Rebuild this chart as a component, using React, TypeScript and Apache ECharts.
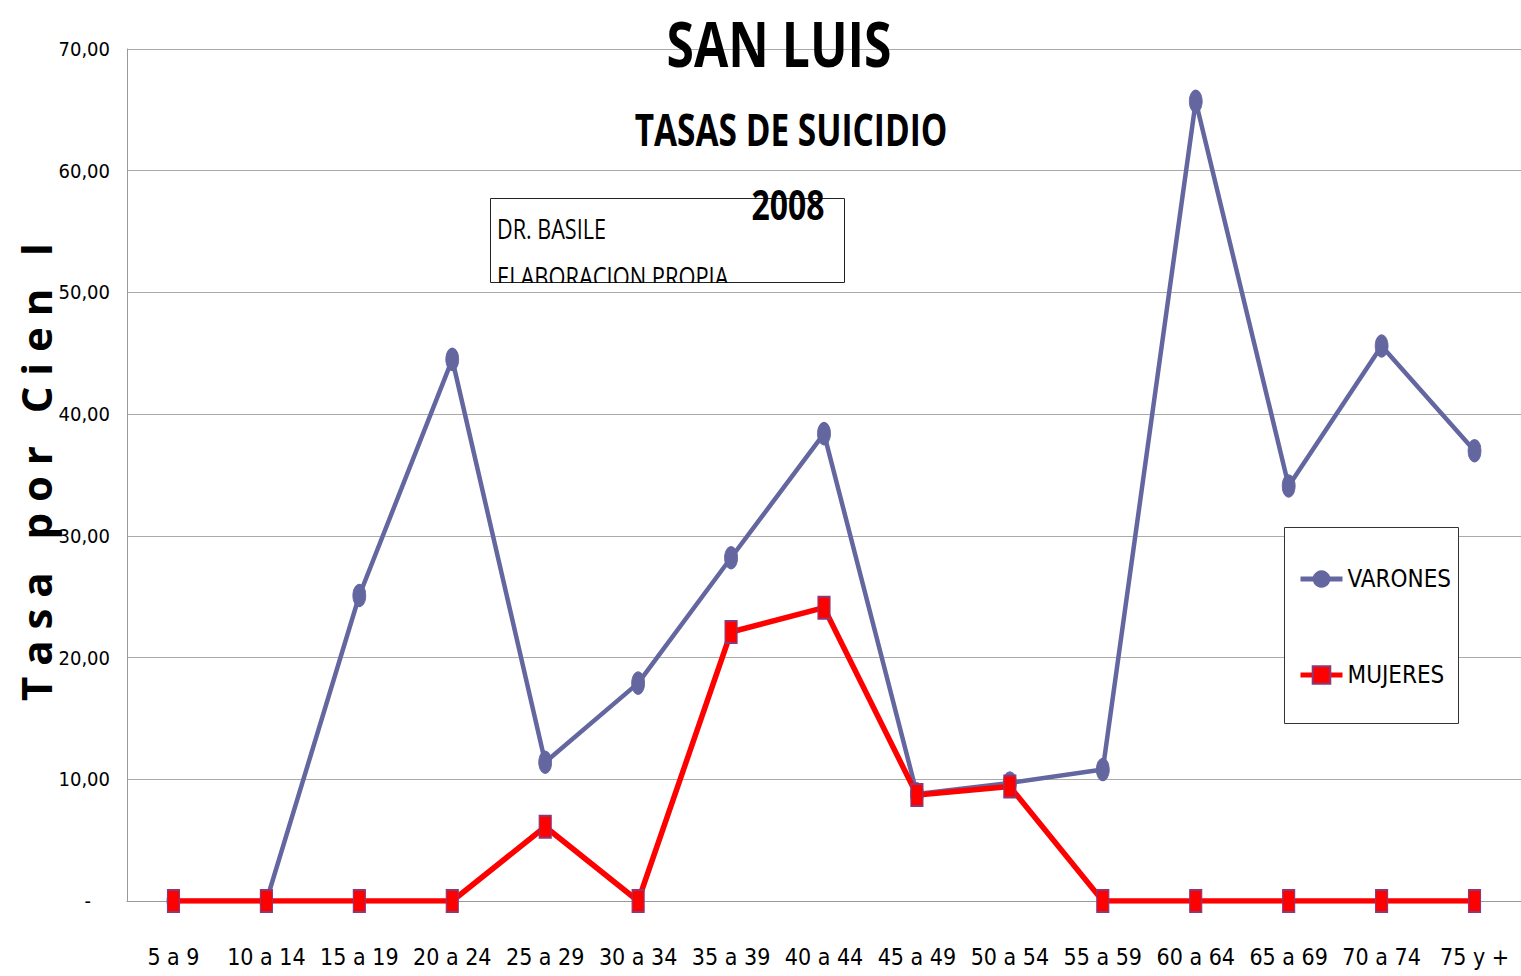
import React, { useEffect, useRef } from "react";
import * as echarts from "echarts";

const categories = ["5 a 9", "10 a 14", "15 a 19", "20 a 24", "25 a 29", "30 a 34", "35 a 39", "40 a 44", "45 a 49", "50 a 54", "55 a 59", "60 a 64", "65 a 69", "70 a 74", "75 y +"];
const varones = [0, 0, 25.1, 44.5, 11.4, 17.9, 28.2, 38.4, 8.8, 9.7, 10.8, 65.7, 34.1, 45.6, 37.0];
const mujeres = [0, 0, 0, 0, 6.1, 0, 22.1, 24.1, 8.7, 9.4, 0, 0, 0, 0, 0];
const yTicks = { min: 0, max: 70, interval: 10 };

const FONT = "'DejaVu Sans Condensed', 'Liberation Sans Narrow', 'Liberation Sans', sans-serif";
const TFONT = "'Open Sans', sans-serif";

export default function App() {
  const ref = useRef<HTMLDivElement>(null);
  useEffect(() => {
    if (!ref.current) return;
    const chart = echarts.init(ref.current, null, { renderer: "svg" });
    chart.setOption({
      animation: false,
      backgroundColor: "#ffffff",
      grid: { left: 127, top: 49, right: 0, bottom: 75, containLabel: false },
      xAxis: {
        type: "category",
        data: categories,
        boundaryGap: true,
        axisLine: { show: true, lineStyle: { color: "#999999", width: 1 } },
        axisTick: { show: false },
        axisLabel: { color: "#000", fontFamily: FONT, fontSize: 23, margin: 44, interval: 0 },
      },
      yAxis: {
        type: "value",
        min: yTicks.min,
        max: yTicks.max,
        interval: yTicks.interval,
        axisLine: { show: true, lineStyle: { color: "#999999", width: 1 } },
        axisTick: { show: false },
        splitLine: { show: true, lineStyle: { color: "#aaaaaa", width: 1 } },
        axisLabel: {
          color: "#000",
          fontFamily: FONT,
          fontSize: 20,
          margin: 17,
          formatter: (v: number) => (v === 0 ? "{d|-}" : v.toFixed(2).replace(".", ",")),
          rich: { d: { fontFamily: FONT, fontSize: 20, color: "#000", padding: [0, 19, 0, 0] } },
        },
      },
      legend: {
        orient: "vertical",
        left: 1293,
        top: 562,
        itemGap: 72,
        itemWidth: 42,
        itemHeight: 22,
        lineStyle: { width: 5 },
        textStyle: { fontFamily: FONT, fontSize: 24, color: "#000" },
        data: ["VARONES", "MUJERES"],
      },
      graphic: [
        { type: "rect", shape: { x: 1284.5, y: 527.5, width: 174, height: 196 }, style: { fill: "#fff", stroke: "#333", lineWidth: 1 }, z: 1 },
        { type: "text", x: 779, y: 43, scaleX: 0.89, scaleY: 1.12, style: { text: "SAN LUIS", fontFamily: TFONT, fontSize: 56, fontWeight: "bold", fill: "#000", align: "center", verticalAlign: "middle" }, z: 10 },
        { type: "text", x: 791, y: 129, scaleX: 0.76, style: { text: "TASAS DE SUICIDIO", fontFamily: TFONT, fontSize: 44, fontWeight: "bold", fill: "#000", align: "center", verticalAlign: "middle" }, z: 10 },
        { type: "rect", shape: { x: 490.5, y: 198.5, width: 354, height: 84 }, style: { fill: "#fff", stroke: "#222", lineWidth: 1 }, z: 5 },
        { type: "text", x: 497, y: 229, scaleX: 0.8, style: { text: "DR. BASILE", fontFamily: TFONT, fontSize: 27, fill: "#000", align: "left", verticalAlign: "middle" }, z: 6 },
        { type: "text", x: 497, y: 277, scaleX: 0.81, style: { text: "ELABORACION PROPIA", fontFamily: TFONT, fontSize: 27, fill: "#000", align: "left", verticalAlign: "middle" }, z: 6 },
        { type: "rect", shape: { x: 485, y: 283, width: 365, height: 9 }, style: { fill: "#fff" }, z: 7 },
        { type: "text", x: 788, y: 204, scaleX: 0.76, style: { text: "2008", fontFamily: TFONT, fontSize: 42, fontWeight: "bold", fill: "#000", align: "center", verticalAlign: "middle" }, z: 10 },
        { type: "text", x: 35, y: 472, rotation: Math.PI / 2, style: { text: "T a s a   p o r   C i e n   l", fontFamily: TFONT, fontSize: 42, fontWeight: "bold", fill: "#000", align: "center", verticalAlign: "middle" }, z: 10 },
      ],
      series: [
        {
          name: "VARONES",
          type: "line",
          data: varones,
          symbol: "circle",
          symbolSize: [13, 22],
          lineStyle: { color: "#6466a0", width: 4.5 },
          itemStyle: { color: "#6466a0", borderColor: "#6466a0" },
          z: 3,
        },
        {
          name: "MUJERES",
          type: "line",
          data: mujeres,
          symbol: "rect",
          symbolSize: [12, 22],
          lineStyle: { color: "#ff0000", width: 5.5 },
          itemStyle: { color: "#ff0000", borderColor: "#8a3a7a", borderWidth: 1.5 },
          z: 4,
        },
      ],
    });
    return () => chart.dispose();
  }, []);
  return <div ref={ref} style={{ position: "fixed", left: 0, top: 0, width: 1521, height: 976 }} />;
}
